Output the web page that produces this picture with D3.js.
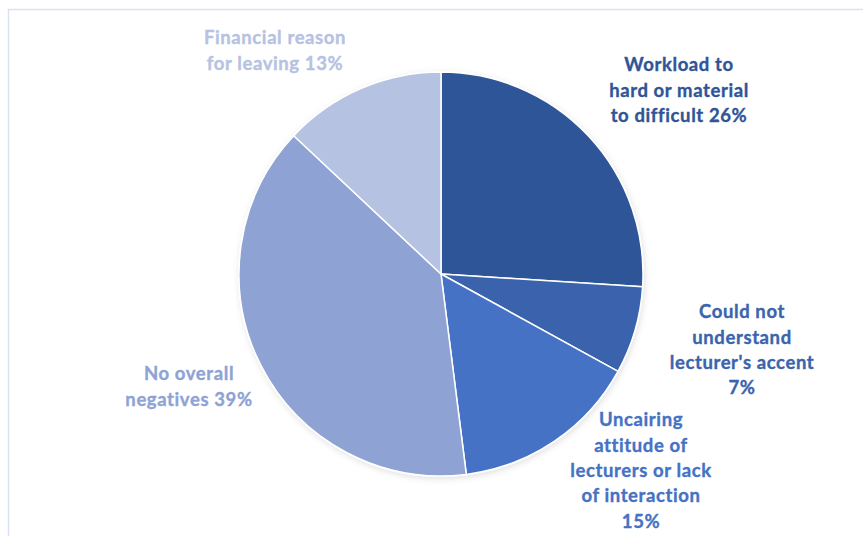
<!DOCTYPE html>
<html>
<head>
<meta charset="utf-8">
<script src="https://cdn.jsdelivr.net/npm/d3@7"></script>
<style>
  body { margin: 0; background: #fff; }
  svg { display: block; }
  .lbl { font-family: Lato, "Open Sans", sans-serif; font-weight: bold; font-size: 18.5px; letter-spacing: 0.6px; }
</style>
</head>
<body>
<svg id="chart"></svg>
<script>
// data
const categories = [
  "Workload to hard or material to difficult",
  "Could not understand lecturer's accent",
  "Uncairing attitude of lecturers or lack of interaction",
  "No overall negatives",
  "Financial reason for leaving"
];
const values = [26, 7, 15, 39, 13];
const labelLines = [
  ["Workload to", "hard or material", "to difficult 26%"],
  ["Could not", "understand", "lecturer's accent", "7%"],
  ["Uncairing", "attitude of", "lecturers or lack", "of interaction", "15%"],
  ["No overall", "negatives 39%"],
  ["Financial reason", "for leaving 13%"]
];
const colors = ["#2F5597", "#3A64AD", "#4472C4", "#8EA3D4", "#B6C2E2"];

const width = 863, height = 536;
const cx = 441, cy = 274, radius = 202;

// label centre positions relative to pie centre (first line centre)
const labelOffsets = [[238, -209], [301, 38], [200, 146], [-252, 100], [-166, -236]];
const lineH = 25.3;

const svg = d3.select("#chart").attr("width", width).attr("height", height);

// chart frame
svg.append("rect")
  .attr("x", 8.5).attr("y", 9.5)
  .attr("width", width).attr("height", height)
  .attr("fill", "none")
  .attr("stroke", "#D9E1F2")
  .attr("stroke-width", 1.5);

const defs = svg.append("defs");
const f = defs.append("filter").attr("id", "shadow")
  .attr("x", "-10%").attr("y", "-10%").attr("width", "120%").attr("height", "120%");
f.append("feDropShadow").attr("dx", 1).attr("dy", 2).attr("stdDeviation", 3)
  .attr("flood-color", "#000").attr("flood-opacity", 0.12);

const pie = d3.pie().sort(null).value(d => d)(values);
const arc = d3.arc().innerRadius(0).outerRadius(radius);

const g = svg.append("g").attr("transform", `translate(${cx},${cy})`);

g.append("g").attr("filter", "url(#shadow)")
  .selectAll("path")
  .data(pie)
  .join("path")
  .attr("d", arc)
  .attr("fill", (d, i) => colors[i])
  .attr("stroke", "#fff")
  .attr("stroke-width", 1.5)
  .attr("stroke-linejoin", "round");

// labels
const labels = g.selectAll("text.lbl")
  .data(pie)
  .join("text")
  .attr("class", "lbl")
  .attr("text-anchor", "middle")
  .attr("fill", (d, i) => colors[i])
  .attr("stroke", (d, i) => colors[i])
  .attr("stroke-width", 0.35)
  .attr("transform", (d, i) => `translate(${labelOffsets[i][0]},${labelOffsets[i][1]})`);

labels.each(function(d, i) {
  d3.select(this).selectAll("tspan")
    .data(labelLines[i])
    .join("tspan")
    .attr("x", 0)
    .attr("y", (t, j) => j * lineH)
    .attr("dy", "0.35em")
    .text(t => t);
});
</script>
</body>
</html>
